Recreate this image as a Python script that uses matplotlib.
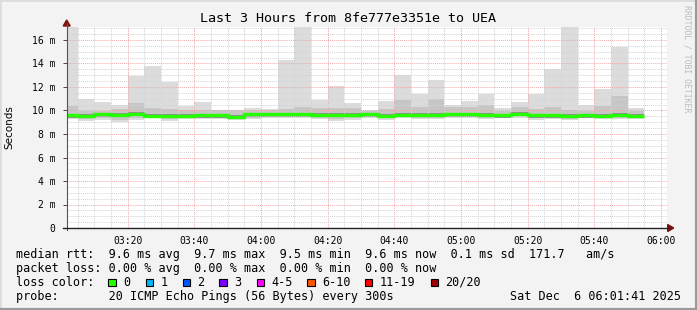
import matplotlib
matplotlib.use("Agg")
import matplotlib.pyplot as plt
import numpy as np
from matplotlib.patches import Rectangle, Polygon
from matplotlib.lines import Line2D

W, H = 697, 310

# ---- data (ms), one value per 5 minute step starting 03:00 ----
step_start = ["03:00", "03:05", "03:10", "03:15", "03:20", "03:25", "03:30",
              "03:35", "03:40", "03:45", "03:50", "03:55", "04:00", "04:05",
              "04:10", "04:15", "04:20", "04:25", "04:30", "04:35", "04:40",
              "04:45", "04:50", "04:55", "05:00", "05:05", "05:10", "05:15",
              "05:20", "05:25", "05:30", "05:35", "05:40", "05:45", "05:50"]
smoke_max = [17.1, 11.0, 10.7, 10.5, 12.9, 13.8, 12.4, 10.4, 10.7, 10.0, 10.0, 10.2,
             10.1, 14.3, 17.1, 10.9, 12.1, 10.6, 10.0, 10.8, 13.0, 11.4, 12.6, 10.5,
             10.8, 11.4, 10.2, 10.7, 11.4, 13.5, 17.1, 10.5, 11.8, 15.4, 10.2]
smoke_hi = [10.4, 10.0, 9.95, 10.1, 10.6, 10.2, 10.1, 10.0, 10.0, 10.0, 10.0, 10.0,
            10.0, 10.1, 10.3, 10.2, 10.2, 10.2, 9.95, 10.15, 10.9, 10.3, 11.0, 10.3,
            10.3, 10.5, 10.0, 10.3, 10.1, 10.3, 10.0, 9.95, 10.4, 11.2, 9.95]
median = [9.59, 9.56, 9.67, 9.64, 9.70, 9.56, 9.53, 9.53, 9.59, 9.59, 9.47, 9.67,
          9.67, 9.67, 9.67, 9.62, 9.64, 9.64, 9.67, 9.53, 9.64, 9.62, 9.64, 9.67,
          9.67, 9.62, 9.59, 9.70, 9.59, 9.59, 9.53, 9.59, 9.56, 9.62, 9.56]
smoke_lo = [9.38, 9.25, 9.32, 9.2, 9.35, 9.45, 9.25, 9.38, 9.4, 9.4, 9.3, 9.4,
            9.45, 9.5, 9.5, 9.4, 9.25, 9.32, 9.5, 9.35, 9.45, 9.4, 9.4, 9.5,
            9.5, 9.4, 9.5, 9.5, 9.35, 9.4, 9.3, 9.5, 9.4, 9.4, 9.4]
smoke_min = [9.28, 9.1, 9.2, 9.05, 9.22, 9.36, 9.1, 9.28, 9.28, 9.28, 9.16, 9.28,
             9.36, 9.4, 9.4, 9.28, 9.1, 9.2, 9.4, 9.22, 9.36, 9.28, 9.28, 9.4,
             9.4, 9.28, 9.4, 9.4, 9.22, 9.28, 9.16, 9.4, 9.28, 9.28, 9.28]

tick_labels = ["03:20", "03:40", "04:00", "04:20", "04:40", "05:00", "05:20", "05:40", "06:00"]
y_ticks = [0, 2, 4, 6, 8, 10, 12, 14, 16]

loss_labels = ["0", "1", "2", "3", "4-5", "6-10", "11-19", "20/20"]
loss_colors = ["#26ff00", "#00b8ff", "#0059ff", "#7e00ff", "#ff00ff", "#ff5500", "#ff0000", "#a10000"]
loss_box_x = [108.3, 145.7, 182.7, 219.3, 256.7, 307.3, 365.0, 430.7]


def minutes(s):
    h, m = s.split(":")
    return int(h) * 60 + int(m)


t_start = 3 * 60 + 1 + 41 / 60.0
t_end = t_start + 180

fig = plt.figure(figsize=(W / 100, H / 100), dpi=100)
fig.patch.set_facecolor("#f3f3f3")


def fx(x):
    return x / W


def fy(y):
    return 1 - y / H


ax_l, ax_r, ax_t, ax_b = 66.7, 666.7, 27.0, 228.0
ax = fig.add_axes([fx(ax_l), fy(ax_b), (ax_r - ax_l) / W, (ax_b - ax_t) / H])
ax.set_facecolor("white")
ax.set_xlim(t_start, t_end)
ax.set_ylim(0, (ax_b - ax_t) / 11.75)
for s in ax.spines.values():
    s.set_visible(False)

# smoke
starts = np.array([minutes(s) for s in step_start], dtype=float)
smax, shi = np.array(smoke_max), np.array(smoke_hi)
slo, smin = np.array(smoke_lo), np.array(smoke_min)
med = np.array(median)
ax.bar(starts, smax - smin, bottom=smin, width=5, align="edge",
       color="#dcdcdc", lw=0, zorder=2)
ax.bar(starts, shi - slo, bottom=slo, width=5, align="edge",
       color="#c6c6c6", lw=0, zorder=3)
ax.bar(starts, (med + 0.15) - (med - 0.2), bottom=med - 0.2, width=5,
       align="edge", color="#909090", lw=0, zorder=4)

# grid on top of the smoke, under the median line
for m in np.arange(185, 365, 5):
    major = m % 20 == 0
    ax.axvline(m, color="#f2a8a8" if major else "#d4d4d4", lw=0.7,
               ls=(0, (1, 1)), zorder=5)
for v in np.arange(0.5, 17.1, 0.5):
    major = abs(v % 2) < 1e-9
    ax.axhline(v, color="#f2a8a8" if major else "#d4d4d4", lw=0.7,
               ls=(0, (1, 1)), zorder=5)

edges = np.append(starts, starts[-1] + 5)
ax.stairs(med, edges, color="#26ff00", lw=2.4, zorder=6, baseline=None)

ax.set_xticks([minutes(t) if t != "06:00" else 360 for t in tick_labels])
ax.set_xticklabels(tick_labels, family="DejaVu Sans Mono", fontsize=7)
ax.set_yticks(y_ticks)
ax.set_yticklabels(["0"] + ["%d m" % v for v in y_ticks[1:]],
                   family="DejaVu Sans Mono", fontsize=7)
ax.tick_params(axis="x", length=0, pad=6)
ax.tick_params(axis="y", length=3, width=0.7, color="#444444", pad=5)

# axes lines with arrows
fig.add_artist(Line2D([fx(ax_l), fx(ax_l)], [fy(ax_b + 2), fy(ax_t - 4)],
                      color="#555555", lw=0.8))
fig.add_artist(Line2D([fx(ax_l - 4), fx(ax_r + 2)], [fy(ax_b), fy(ax_b)],
                      color="#222222", lw=1.0))
fig.add_artist(Polygon([[fx(ax_l - 3.5), fy(ax_t - 1)], [fx(ax_l + 3.5), fy(ax_t - 1)],
                        [fx(ax_l), fy(ax_t - 7)]], closed=True, color="#7f1010"))
fig.add_artist(Polygon([[fx(ax_r + 1), fy(ax_b - 3.5)], [fx(ax_r + 1), fy(ax_b + 3.5)],
                        [fx(ax_r + 7), fy(ax_b)]], closed=True, color="#7f1010"))

# title and labels
fig.text(fx(348), fy(18.5), "Last 3 Hours from 8fe777e3351e to UEA",
         family="DejaVu Sans Mono", fontsize=9.6, ha="center", va="center")
fig.text(fx(9.5), fy(127), "Seconds", family="DejaVu Sans", fontsize=7.5,
         rotation=90, ha="center", va="center")
fig.text(fx(687.5), fy(59), "RRDTOOL / TOBI OETIKER", family="DejaVu Sans Mono",
         fontsize=5.9, rotation=270, ha="center", va="center", color="#bcbcbc")

# legend
mono = dict(family="DejaVu Sans Mono", fontsize=8.5, va="center", ha="left")
fig.text(fx(16), fy(254.3),
         "median rtt:  9.6 ms avg  9.7 ms max  9.5 ms min  9.6 ms now  0.1 ms sd  171.7   am/s",
         **mono)
fig.text(fx(16), fy(268.3),
         "packet loss: 0.00 % avg  0.00 % max  0.00 % min  0.00 % now", **mono)
fig.text(fx(16), fy(282.3), "loss color:", **mono)
for bx, lab, col in zip(loss_box_x, loss_labels, loss_colors):
    fig.add_artist(Rectangle((fx(bx), fy(286)), 7.3 / W, 7.3 / H,
                             facecolor=col, edgecolor="black", lw=0.8))
    fig.text(fx(bx + 14.7), fy(282.3), lab, **mono)
fig.text(fx(16), fy(296.3),
         "probe:       20 ICMP Echo Pings (56 Bytes) every 300s", **mono)
fig.text(fx(681), fy(296.3), "Sat Dec  6 06:01:41 2025",
         family="DejaVu Sans Mono", fontsize=8.5, va="center", ha="right")

# frame
fig.add_artist(Line2D([0, 0, 1], [0, 1, 1], color="#dcdcdc", lw=2))
fig.add_artist(Line2D([0, 1, 1], [0, 0, 1], color="#9a9a9a", lw=3))

fig.savefig("out.png", dpi=100, facecolor=fig.get_facecolor())
